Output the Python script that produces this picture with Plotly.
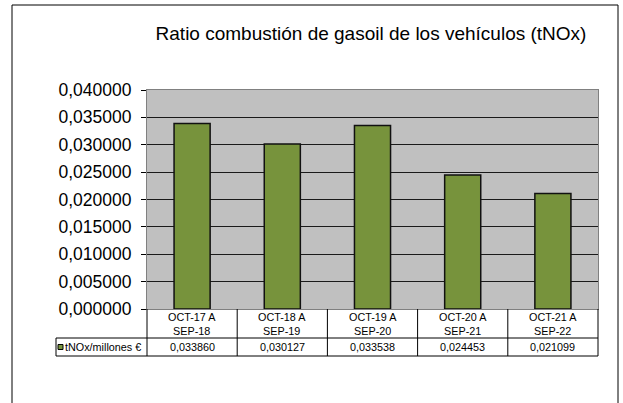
import plotly.graph_objects as go

# Data
categories = ["OCT-17 A<br>SEP-18", "OCT-18 A<br>SEP-19", "OCT-19 A<br>SEP-20",
              "OCT-20 A<br>SEP-21", "OCT-21 A<br>SEP-22"]
values = [0.033860, 0.030127, 0.033538, 0.024453, 0.021099]
series_name = "tNOx/millones €"
title_text = "Ratio combustión de gasoil de los vehículos (tNOx)"

BAR = "#77933C"
FONT = "Liberation Sans, Arial, sans-serif"
TABLE_FONT = dict(size=10.8, family=FONT, color="#000")

W, H = 623, 403
ML, MR, MT, MB = 147, 25, 90, 94
PW = W - ML - MR
PH = H - MT - MB

def px_y(py):
    """Convert a pixel row to paper y."""
    return (H - MB - py) / PH

def px_x(px):
    """Convert a pixel column to paper x."""
    return (px - ML) / PW

xs = list(range(len(categories)))

fig = go.Figure()
fig.add_trace(go.Bar(
    x=xs, y=values, width=0.4,
    marker=dict(color=BAR, line=dict(color="#111111", width=1.5)),
    name=series_name, showlegend=False, hoverinfo="y",
))

shapes = []
annotations = []

row1_bot = px_y(338)
row2_bot = px_y(356)
line = dict(color="#000000", width=1)

# Data table below the plot area
shapes.append(dict(type="line", xref="paper", yref="paper", x0=px_x(56), x1=1,
                   y0=row1_bot, y1=row1_bot, line=line))
shapes.append(dict(type="line", xref="paper", yref="paper", x0=px_x(56), x1=1,
                   y0=row2_bot, y1=row2_bot, line=line))
shapes.append(dict(type="line", xref="paper", yref="paper", x0=px_x(56), x1=px_x(56),
                   y0=row1_bot, y1=row2_bot, line=line))
for i in range(len(categories) + 1):
    xp = i / len(categories)
    shapes.append(dict(type="line", xref="paper", yref="paper", x0=xp, x1=xp,
                       y0=0, y1=row2_bot, line=line))

for i, (cat, v) in enumerate(zip(categories, values)):
    xp = (i + 0.5) / len(categories)
    annotations.append(dict(xref="paper", yref="paper", x=xp, y=(0 + row1_bot) / 2,
                            text=cat, showarrow=False, font=TABLE_FONT,
                            xanchor="center", yanchor="middle"))
    annotations.append(dict(xref="paper", yref="paper", x=xp, y=(row1_bot + row2_bot) / 2,
                            text=f"{v:.6f}".replace(".", ","), showarrow=False,
                            font=TABLE_FONT, xanchor="center", yanchor="middle"))

# Legend key inside the table
ky = (row1_bot + row2_bot) / 2
shapes.append(dict(type="rect", xref="paper", yref="paper",
                   x0=px_x(58), x1=px_x(63), y0=ky - 2.5 / PH, y1=ky + 2.5 / PH,
                   fillcolor=BAR, line=dict(color="#000", width=1)))
annotations.append(dict(xref="paper", yref="paper", x=px_x(63), y=ky,
                        text=series_name, showarrow=False, font=TABLE_FONT,
                        xanchor="left", yanchor="middle"))

# Outer chart frame
shapes.append(dict(type="rect", xref="paper", yref="paper",
                   x0=px_x(12), x1=px_x(618), y0=px_y(420), y1=px_y(5),
                   line=dict(color="#000", width=1), fillcolor="rgba(0,0,0,0)", layer="below"))

fig.update_layout(
    width=W, height=H,
    margin=dict(l=ML, r=MR, t=MT, b=MB),
    paper_bgcolor="white",
    plot_bgcolor="#C0C0C0",
    separators=",.",
    font=dict(family=FONT, color="#000"),
    title=dict(text=title_text, x=371 / W, y=1 - 33 / H, xanchor="center", yanchor="middle",
               font=dict(size=19, family=FONT, color="#000")),
    xaxis=dict(range=[-0.5, len(categories) - 0.5], showticklabels=False, showgrid=False,
               zeroline=False, showline=True, linecolor="#808080", mirror=True, ticks=""),
    yaxis=dict(range=[0, 0.04], dtick=0.005, tickformat=".6f", showgrid=True,
               gridcolor="#1a1a1a", gridwidth=1, zeroline=False,
               showline=True, linecolor="#808080", mirror=True,
               ticks="outside", ticklen=5, tickcolor="#000", ticklabelstandoff=6,
               tickfont=dict(size=17.5, family=FONT, color="#000")),
    shapes=shapes,
    annotations=annotations,
    bargap=0.6,
)

fig.write_html("out.html")
